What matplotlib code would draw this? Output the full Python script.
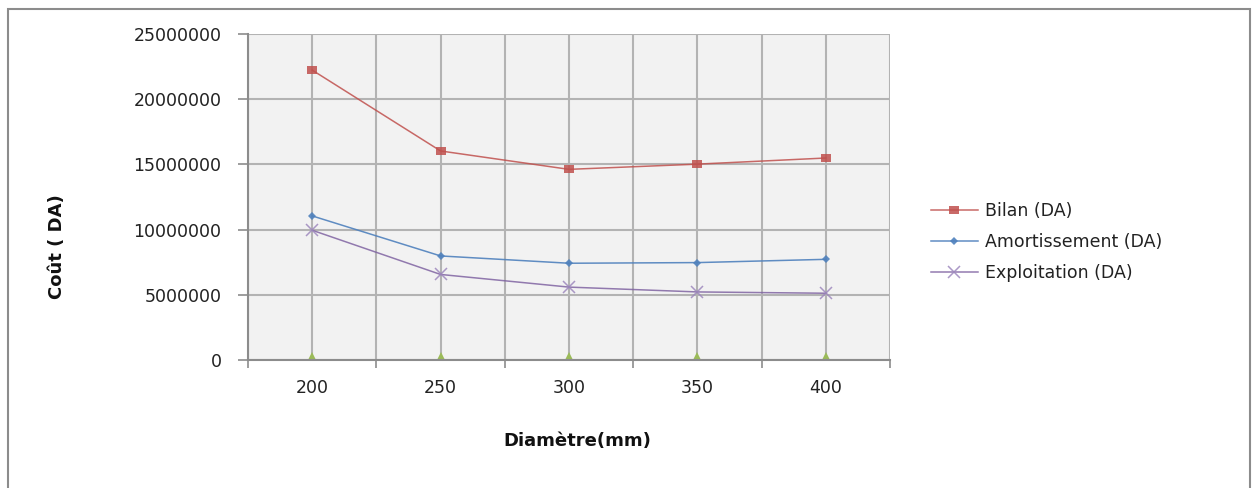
import matplotlib.pyplot as plt
from matplotlib.patches import Rectangle
from matplotlib.ticker import FixedLocator

# Coûts en fonction du diamètre de la conduite
diametres = ['200', '250', '300', '350', '400']
bilan = [22230000, 16030000, 14620000, 15020000, 15490000]
amortissement = [11050000, 7980000, 7420000, 7470000, 7720000]
exploitation = [9950000, 6560000, 5590000, 5220000, 5120000]
serie4 = [0, 0, 0, 0, 0]

fig = plt.figure(figsize=(12.55, 4.88), dpi=100)
ax = fig.add_axes([248 / 1255, 1 - 360 / 488, 642 / 1255, 326 / 488])
ax.set_facecolor('#f2f2f2')

x = list(range(len(diametres)))

# marqueur carré un peu élargi
carre = [(-1.3, -1), (1.3, -1), (1.3, 1), (-1.3, 1), (-1.3, -1)]

ax.plot(x, bilan, color='#c0504d', lw=1.1, alpha=0.85, marker=carre,
        markersize=7, markeredgewidth=0, markerfacecolor='#c0504d',
        label='Bilan (DA)', zorder=4)
ax.plot(x, amortissement, color='#4f81bd', lw=1.1, alpha=0.9, marker='D',
        markersize=4.5, markeredgewidth=0, markerfacecolor='#4f81bd',
        label='Amortissement (DA)', zorder=4)
ax.plot(x, exploitation, color='#8064a2', lw=1.1, alpha=0.85, marker='x',
        markersize=9, markeredgewidth=1.1, markeredgecolor='#9d87bd',
        label='Exploitation (DA)', zorder=4)
ax.plot(x, serie4, color='#9bbb59', lw=0, marker='^', markersize=12,
        markeredgewidth=0, label='_nolegend_', zorder=1.5)

ax.set_xlim(-0.5, len(diametres) - 0.5)
ax.set_ylim(0, 25000000)
ax.set_yticks([0, 5000000, 10000000, 15000000, 20000000, 25000000])
ax.set_yticklabels(['0', '5000000', '10000000', '15000000', '20000000', '25000000'])
ax.set_xticks(x)
ax.set_xticklabels(diametres)
ax.xaxis.set_minor_locator(FixedLocator([i - 0.5 for i in range(len(diametres) + 1)]))

ax.grid(True, which='major', color='#b3b3b3', lw=1.5, zorder=1)
ax.grid(True, which='minor', axis='x', color='#b3b3b3', lw=1.5, zorder=1)
ax.set_axisbelow(True)

ax.tick_params(axis='y', length=7, width=1.2, color='#8c8c8c', pad=12,
               labelsize=12.5, labelcolor='#222222')
ax.tick_params(axis='x', which='major', length=0, pad=14,
               labelsize=12.5, labelcolor='#222222')
ax.tick_params(axis='x', which='minor', length=6, width=1.2, color='#8c8c8c')

for s in ['top', 'right']:
    ax.spines[s].set_visible(False)
for s in ['left', 'bottom']:
    ax.spines[s].set_color('#8c8c8c')
    ax.spines[s].set_linewidth(1.5)

fig.text(577 / 1255, 1 - 441 / 488, 'Diamètre(mm)', ha='center', va='center',
         fontsize=13, fontweight='bold', color='#111111')
fig.text(57 / 1255, 1 - 247 / 488, 'Coût ( DA)', ha='center', va='center',
         rotation=90, fontsize=13, fontweight='bold', color='#111111')

ax.legend(loc='center left', bbox_to_anchor=(922 / 1255, 1 - 242 / 488),
          bbox_transform=fig.transFigure, frameon=False, fontsize=12.5,
          handlelength=2.7, handletextpad=0.45, labelspacing=0.75,
          borderpad=0, labelcolor='#222222')

fig.add_artist(Rectangle((8 / 1255, -0.1), 1242 / 1255, 1.1 - 9 / 488,
                         transform=fig.transFigure, fill=False,
                         edgecolor='#8c8c8c', lw=1.5, clip_on=False))

fig.savefig('out.png', dpi=100, facecolor='white')
